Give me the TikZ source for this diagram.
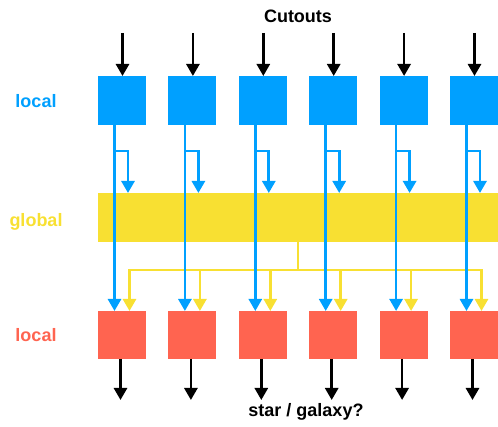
\documentclass[tikz,border=0pt]{standalone}
\usepackage{fontspec}
\setmainfont{Liberation Sans}
\usetikzlibrary{arrows.meta}
\definecolor{cblue}{RGB}{0,160,255}
\definecolor{cyellow}{RGB}{248,224,50}
\definecolor{cred}{RGB}{255,100,80}
\begin{document}
\begin{tikzpicture}[x=1pt,y=-1pt,
  box/.style={minimum width=48pt, minimum height=48pt, inner sep=0pt, outer sep=0pt, anchor=north west, draw=none},
  arr/.style={-{Triangle[width=13pt,length=12pt]}, line width=2.7pt},
  karr/.style={arr, black},
  barr/.style={arr, cblue},
  yarr/.style={arr, cyellow},
  yline/.style={line width=2.7pt, cyellow, line cap=rect},
  lbl/.style={font=\fontsize{18}{20}\selectfont\bfseries, anchor=base, inner sep=0pt}]
\useasboundingbox (0,0) rectangle (498,427);
% global bar
\node[box, fill=cyellow, minimum width=400pt, minimum height=49pt] (g) at (98,193) {};
\coordinate (yj) at (298,270);
\foreach \i/\x in {1/98,2/168.4,3/238.8,4/309.2,5/379.6,6/450} {
  \node[box, fill=cblue, minimum height=49pt] (b\i) at (\x,76) {};
  \node[box, fill=cred] (r\i) at (\x,311) {};
  \coordinate (top\i) at (\x+24.5,33);
  \coordinate (bot\i) at (\x+22.5,400);
  \coordinate (bl\i) at (\x+16.5,151);
  \coordinate (bt\i) at (\x+30,151);
  \coordinate (ya\i) at (\x+31.5,270);
}
% yellow connectors
\draw[yline] (g.south) -- (yj);
\draw[yline] (ya1) -- (ya6);
\foreach \i in {1,...,6} {
  \draw[yarr] (ya\i) -- (ya\i |- r\i.north);
}
% blue and black connectors
\foreach \i in {1,...,6} {
  \draw[karr] (top\i) -- (top\i |- b\i.north);
  \draw[karr] (bot\i |- r\i.south) -- (bot\i);
  \draw[barr] (bl\i |- b\i.south) -- (bl\i |- r\i.north);
  \draw[barr] (bl\i) -- (bt\i) -- (bt\i |- g.north);
}
% labels
\node[lbl, text=cblue] (l1) at (36,108) {local};
\node[lbl, text=cyellow] (l2) at (36,226.5) {global};
\node[lbl, text=cred] (l3) at (36,341.5) {local};
\node[lbl] (t1) at (298,23) {Cutouts};
\node[lbl] (t2) at (306,417) {star / galaxy?};
\end{tikzpicture}
\end{document}
